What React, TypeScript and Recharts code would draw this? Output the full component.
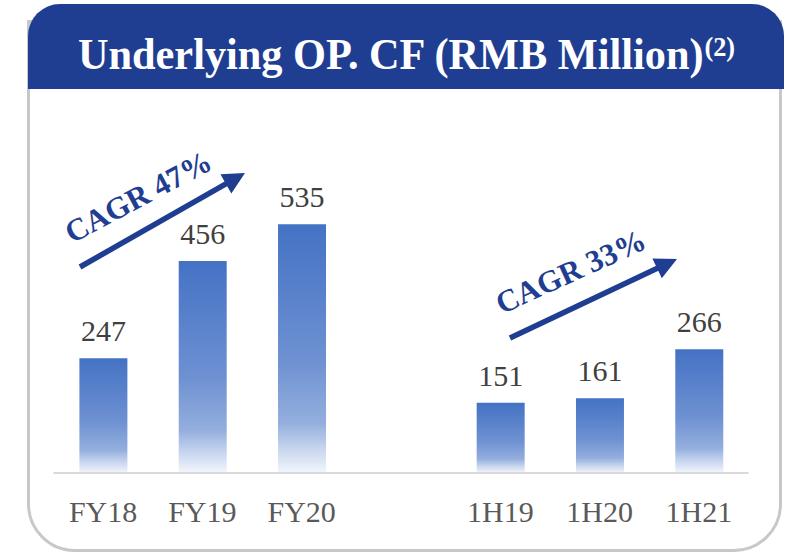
import React from 'react';
import { BarChart, Bar, XAxis, YAxis, LabelList } from 'recharts';

const categories = ['FY18', 'FY19', 'FY20', '', '1H19', '1H20', '1H21'];
const values: (number | null)[] = [247, 456, 535, null, 151, 161, 266];
const cagrLabels = ['CAGR 47%', 'CAGR 33%'];
const title = 'Underlying OP. CF (RMB Million)';
const titleNote = '(2)';

const data = categories.map((c, i) => ({ name: c, value: values[i] }));

const SERIF = "'Liberation Serif', 'Times New Roman', serif";
const NAVY = '#1F3E91';

function Arrow({ x1, y1, x2, y2 }: { x1: number; y1: number; x2: number; y2: number }) {
  const dx = x2 - x1;
  const dy = y2 - y1;
  const len = Math.sqrt(dx * dx + dy * dy);
  const ux = dx / len;
  const uy = dy / len;
  const hl = 22;
  const hw = 11;
  const bx = x2 - ux * hl;
  const by = y2 - uy * hl;
  const px = -uy;
  const py = ux;
  return (
    <g>
      <line x1={x1} y1={y1} x2={bx + ux * 2} y2={by + uy * 2} stroke={NAVY} strokeWidth={5.5} />
      <polygon
        points={`${x2},${y2} ${bx + px * hw},${by + py * hw} ${bx - px * hw},${by - py * hw}`}
        fill={NAVY}
      />
    </g>
  );
}

export default function App() {
  return (
    <div style={{ position: 'absolute', left: 0, top: 0, width: 785, height: 553, background: '#fff', overflow: 'hidden' }}>
      <div
        style={{
          position: 'absolute',
          left: 27,
          top: 20,
          width: 755,
          height: 532,
          boxSizing: 'border-box',
          border: '3px solid #c8c8c8',
          borderRadius: '0 0 48px 48px',
        }}
      />
      <div
        style={{
          position: 'absolute',
          left: 28,
          top: 4,
          width: 756,
          height: 85,
          background: NAVY,
          borderRadius: '32px 32px 0 0',
        }}
      />
      <div
        style={{
          position: 'absolute',
          left: 78,
          top: 24,
          whiteSpace: 'nowrap',
          color: '#fff',
          fontFamily: SERIF,
          fontWeight: 'bold',
          fontSize: 45,
          lineHeight: '60px',
          transform: 'scaleX(0.94)',
          transformOrigin: 'left center',
        }}
      >
        {title}
        <span style={{ fontSize: 28, verticalAlign: 'top', position: 'relative', top: -7, marginLeft: 1 }}>{titleNote}</span>
      </div>
      <div style={{ position: 'absolute', left: 0, top: 0 }}>
        <BarChart
          width={785}
          height={553}
          data={data}
          margin={{ top: 194, right: 36.4, bottom: 50, left: 53.4 }}
        >
          <defs>
            <linearGradient id="barGrad" x1="0" y1="0" x2="0" y2="1">
              <stop offset="0" stopColor="#4472C4" />
              <stop offset="0.55" stopColor="#6E91D2" />
              <stop offset="0.8" stopColor="#94AFDE" />
              <stop offset="0.9" stopColor="#C6D4EE" />
              <stop offset="1" stopColor="#F3F6FC" />
            </linearGradient>
          </defs>
          <XAxis
            dataKey="name"
            height={30}
            tickLine={false}
            tickSize={6}
            tickMargin={22}
            axisLine={{ stroke: '#d9d9d9', strokeWidth: 2 }}
            tick={{ fontSize: 30, fill: '#595959', fontFamily: SERIF }}
            interval={0}
          />
          <YAxis hide domain={[0, 600]} />
          <Bar dataKey="value" fill="url(#barGrad)" barSize={48} isAnimationActive={false}>
            <LabelList
              dataKey="value"
              position="top"
              offset={17}
              formatter={(v: any) => (v == null ? '' : v)}
              fontSize={30}
              fill="#404040"
              fontFamily={SERIF}
            />
          </Bar>
        </BarChart>
      </div>
      <svg
        width={785}
        height={553}
        style={{ position: 'absolute', left: 0, top: 0, pointerEvents: 'none' }}
      >
        <Arrow x1={80} y1={267} x2={245} y2={173} />
        <Arrow x1={510} y1={338} x2={677} y2={259} />
        <text
          x={143}
          y={206}
          textAnchor="middle"
          transform="rotate(-28 143 206)"
          fill={NAVY}
          fontFamily={SERIF}
          fontWeight="bold"
          fontSize={31}
        >
          {cagrLabels[0]}
        </text>
        <text
          x={575}
          y={281}
          textAnchor="middle"
          transform="rotate(-24.5 575 281)"
          fill={NAVY}
          fontFamily={SERIF}
          fontWeight="bold"
          fontSize={31}
        >
          {cagrLabels[1]}
        </text>
      </svg>
    </div>
  );
}
